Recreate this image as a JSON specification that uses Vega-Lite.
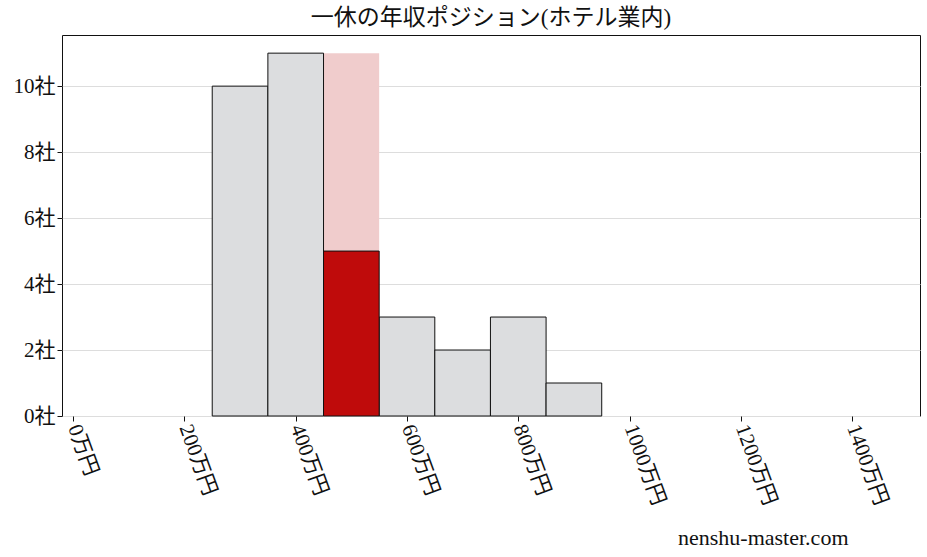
{
  "$schema": "https://vega.github.io/schema/vega-lite/v6.json",
  "width": 858,
  "height": 381,
  "autosize": {"type": "none"},
  "padding": {"left": 62, "top": 35, "right": 7, "bottom": 141},
  "title": {
    "text": "一休の年収ポジション(ホテル業内)",
    "font": "Liberation Serif, Noto Sans CJK JP",
    "fontSize": 23,
    "fontWeight": "normal",
    "color": "#111",
    "offset": 5
  },
  "data": {
    "values": [
      {"kind": "range", "start": 450, "end": 550, "count": 11},
      {"kind": "others", "start": 250, "end": 350, "count": 10},
      {"kind": "others", "start": 350, "end": 450, "count": 11},
      {"kind": "company", "start": 450, "end": 550, "count": 5},
      {"kind": "others", "start": 550, "end": 650, "count": 3},
      {"kind": "others", "start": 650, "end": 750, "count": 2},
      {"kind": "others", "start": 750, "end": 850, "count": 3},
      {"kind": "others", "start": 850, "end": 950, "count": 1}
    ]
  },
  "mark": {"type": "bar", "strokeWidth": 1},
  "encoding": {
    "x": {
      "field": "start",
      "type": "quantitative",
      "scale": {"domain": [-20, 1522], "nice": false, "zero": false},
      "axis": {
        "values": [0, 200, 400, 600, 800, 1000, 1200, 1400],
        "labelExpr": "datum.value + '万円'",
        "labelAngle": 70,
        "labelAlign": "left",
        "labelBaseline": "middle",
        "labelPadding": 4,
        "grid": false,
        "title": "nenshu-master.com",
        "titleFontSize": 22,
        "titleFontWeight": "normal",
        "titleAlign": "right",
        "titleAnchor": "start",
        "titleX": 786,
        "titleY": 128,
        "titleBaseline": "alphabetic"
      }
    },
    "x2": {"field": "end"},
    "y": {
      "field": "count",
      "type": "quantitative",
      "stack": null,
      "scale": {"domain": [0, 11.55], "nice": false},
      "axis": {
        "values": [0, 2, 4, 6, 8, 10],
        "labelExpr": "datum.value + '社'",
        "title": null,
        "grid": true
      }
    },
    "y2": {"datum": 0},
    "order": {"field": "kind", "sort": "descending"},
    "color": {
      "field": "kind",
      "type": "nominal",
      "scale": {
        "domain": ["range", "others", "company"],
        "range": ["#f0cccc", "#dcdddf", "#bf0b0b"]
      },
      "legend": null
    },
    "stroke": {
      "condition": {"test": "datum.kind === 'range'", "value": null},
      "value": "#111111"
    }
  },
  "config": {
    "view": {"stroke": "#111111", "strokeWidth": 1},
    "font": "Liberation Serif, Noto Sans CJK JP",
    "axis": {
      "labelFont": "Liberation Serif, Noto Sans CJK JP",
      "titleFont": "Liberation Serif, Noto Sans CJK JP",
      "labelFontSize": 21,
      "labelColor": "#111",
      "titleColor": "#111",
      "tickColor": "#111",
      "tickSize": 5,
      "domain": false,
      "gridColor": "#dddddd",
      "gridWidth": 1
    }
  }
}
